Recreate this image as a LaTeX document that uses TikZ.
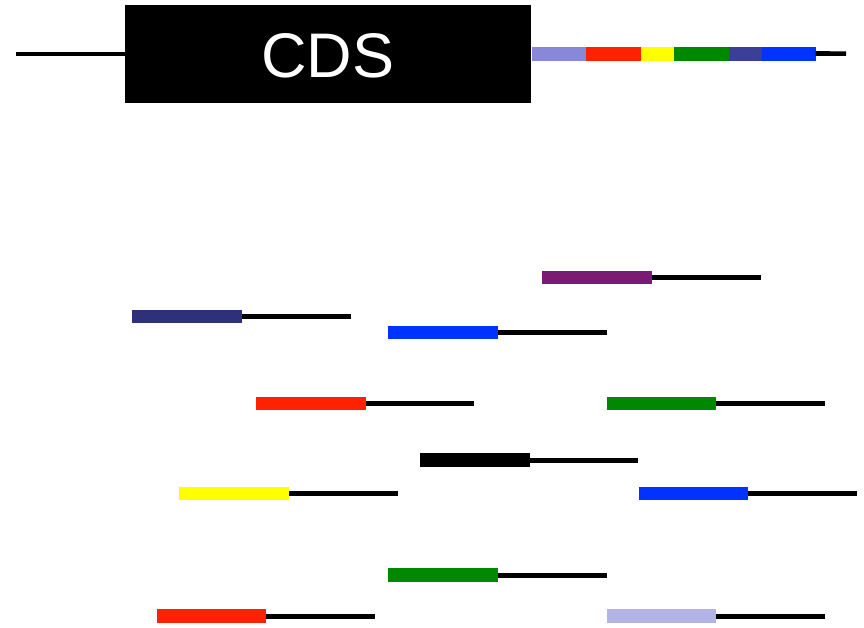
\documentclass[tikz,border=0pt]{standalone}
\usepackage{fontspec}
\setmainfont{Liberation Sans}
\definecolor{rdpurple}{HTML}{7B1A72}
\definecolor{rdnavy}{HTML}{2E3179}
\definecolor{rdblue}{HTML}{0033FF}
\definecolor{rdred}{HTML}{FF2200}
\definecolor{rdgreen}{HTML}{008800}
\definecolor{rdyellow}{HTML}{FFFF00}
\definecolor{rdlavender}{HTML}{B3B3E6}
\definecolor{rdperiwinkle}{HTML}{8888D8}
\definecolor{rdslate}{HTML}{3A3F9A}
\begin{document}
\begin{tikzpicture}[x=1pt,y=-1pt,
  readbar/.style={draw=none, inner sep=0pt, minimum width=109.4pt,
                  minimum height=13.3pt, anchor=west},
  tail/.style={line width=5pt, black},
  seg/.style={fill=#1, draw=#1, line width=0.6pt, inner sep=0pt,
              minimum height=12.8pt, anchor=west},
  gene/.style={fill=black, draw=none, inner sep=0pt,
               minimum width=406pt, minimum height=98pt}]
\useasboundingbox (0,0) rectangle (864,627);

% gene model: upstream line, coding sequence, 3' region with coloured segments
\node[gene] (cds) at (328,54) {};
\node[text=white, font=\fontsize{63}{63}\selectfont, inner sep=0pt] (cdstext) at (328,56) {CDS};
\coordinate (up) at (16,54);
\draw[tail, line width=4.6pt] (up) -- (cds.west);

\node[seg=rdperiwinkle, minimum width=53pt] (s1) at (532,53.5) {};
\node[seg=rdred,        minimum width=55pt] (s2) at (s1.east) {};
\node[seg=rdyellow,     minimum width=32pt] (s3) at (s2.east) {};
\node[seg=rdgreen,      minimum width=55pt] (s4) at (s3.east) {};
\node[seg=rdslate,      minimum width=32pt] (s5) at (s4.east) {};
\node[seg=rdblue,       minimum width=53pt] (s6) at (s5.east) {};
\coordinate (down) at (846,53.6);
\draw[tail, line width=4.6pt] (s6.east) -- (down);

% reads: coloured block followed by a black tail
\foreach \n/\c/\x/\y/\e in {
  1/rdpurple/542/277.3/760.5,
  2/rdnavy/132/316.7/350.7,
  3/rdblue/388/332.7/606.5,
  4/rdred/256/403.7/474,
  5/rdgreen/606.5/403.3/825,
  6/black/420/460/638,
  7/rdyellow/179/493.3/398,
  8/rdblue/638.5/493.3/857,
  9/rdgreen/388/575/606.5,
  10/rdred/156.5/616/375,
  11/rdlavender/606.5/616/825} {
  \node[readbar, fill=\c] (r\n) at (\x,\y) {};
  \coordinate (t\n) at (\e,\y);
  \draw[tail] (r\n.east) -- (t\n);
}
\end{tikzpicture}
\end{document}
